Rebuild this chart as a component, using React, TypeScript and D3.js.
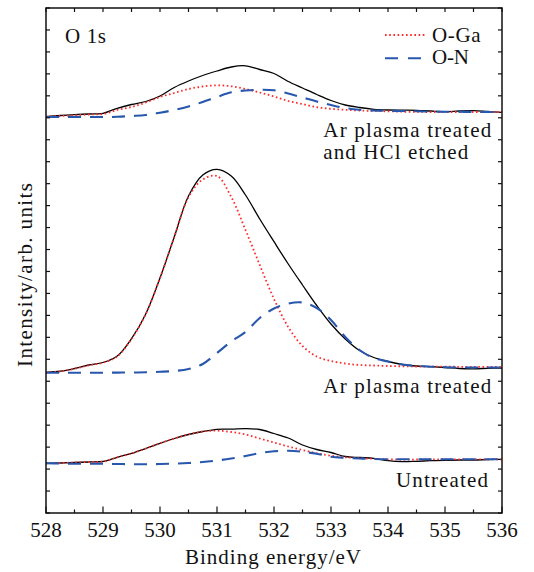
import React from 'react';
import * as d3 from 'd3';

// Binding energy grid (eV)
const energy = [528, 528.25, 528.5, 528.75, 529, 529.25, 529.5, 529.75, 530, 530.25, 530.5, 530.75, 531, 531.25, 531.5, 531.75, 532, 532.25, 532.5, 532.75, 533, 533.25, 533.5, 533.75, 534, 534.25, 534.5, 534.75, 535, 535.25, 535.5, 535.75, 536];

// Ar plasma treated and HCl etched (offset spectrum)
const hclTotal = [396.3, 397.5, 398.4, 399, 399.7, 404.7, 408.5, 411.5, 417, 425.5, 432, 437.5, 442, 446, 447.2, 443.5, 439.5, 431.5, 425, 418.5, 412.5, 408, 405.5, 403.7, 403, 402.8, 402.7, 402, 401.3, 402, 402.3, 401.5, 400.7];
const hclOGa = [396.3, 397, 397.7, 398.5, 399, 403, 406, 410.5, 416, 420, 424, 426.5, 427.7, 426.7, 424, 420.5, 416.5, 412, 409, 405.8, 404.2, 403.2, 402.5, 402, 401.7, 401.3, 401.1, 401, 401, 401, 401, 401, 401];
const hclON = [396, 396, 396, 396, 396, 396.2, 397, 398, 400.3, 403, 406.5, 411, 416, 420.7, 422.5, 423.2, 422.7, 419.5, 415.5, 411.5, 408, 405, 403.3, 402.5, 402.2, 402, 401.7, 401.5, 401.3, 401.2, 401.1, 401, 401];

// Ar plasma treated
const arTotal = [140.7, 141.8, 144.5, 148, 150.5, 157, 174.3, 199, 235, 276, 317, 338, 343.7, 337, 318, 294, 271.3, 249, 228, 207.5, 189, 174, 162.5, 155.5, 151.5, 148.5, 147, 146.3, 145.5, 144.5, 144.2, 144.7, 145];
const arOGa = [140.5, 141.5, 144.2, 147.7, 150.3, 156.5, 174, 199, 235, 276, 316, 333.5, 337, 316, 283, 248, 214, 186, 167, 156.5, 152, 149.5, 148, 147.5, 147, 146.7, 146.5, 146.4, 146.3, 146.2, 146.1, 146, 146];
const arON = [140.3, 140.3, 140.3, 140.3, 140.3, 140.4, 140.5, 140.7, 141.2, 142, 144, 149, 160, 171.5, 181, 195, 204.5, 209.5, 210.5, 205, 193, 176, 163, 155, 151.5, 148.5, 147, 146.3, 145.8, 145.5, 145.5, 145.5, 145.5];

// Untreated
const untreatedTotal = [49.7, 50, 50.5, 51, 51.5, 55.7, 59.7, 64.5, 69.7, 74.5, 78.5, 81.5, 83.7, 83.8, 84.3, 83.5, 79.5, 75, 68, 63.5, 60.5, 56.5, 55.5, 54.7, 52.3, 51.3, 51.7, 52.3, 52.7, 53, 53, 53.4, 53.7];
const untreatedOGa = [49.7, 50, 50.5, 51, 51.4, 55.7, 59.5, 64.5, 69.7, 74.5, 78.5, 81.5, 82.3, 81, 78.5, 74.5, 70.5, 66.5, 63, 59.7, 57.2, 55.7, 54.8, 54.2, 53.7, 53.4, 53.5, 53.6, 53.6, 53.7, 53.7, 53.7, 53.7];
const untreatedON = [49.7, 49.5, 49.3, 49.2, 49.2, 49, 48.8, 48.8, 49, 49.4, 50, 51, 52.5, 54.5, 57, 60, 61.7, 62.2, 61.2, 59.2, 56.3, 55.2, 54.5, 54, 53.7, 53.7, 53.7, 53.7, 53.7, 53.7, 53.7, 53.7, 53.7];

const xTickValues = [528, 529, 530, 531, 532, 533, 534, 535, 536];
const xMinorValues = [528.5, 529.5, 530.5, 531.5, 532.5, 533.5, 534.5, 535.5];
const yMax = 505;
const yTickCount = 23;

const spectrumLabels = [
  { lines: ['Ar plasma treated', 'and HCl etched'], widths: [168, 145], y: 136.5 },
  { lines: ['Ar plasma treated'], widths: [168], y: 393.3 },
  { lines: ['Untreated'], widths: [92], y: 486.5 },
];
const seriesNames = ['O-Ga', 'O-N'];

const W = 534;
const H = 572;
const M = { left: 46, right: 32, top: 8, bottom: 59 };
const FONT = "'Liberation Serif', 'Times New Roman', serif";
const FS = 21;

export default function App() {
  const x = d3.scaleLinear().domain([528, 536]).range([M.left, W - M.right]);
  const y = d3.scaleLinear().domain([0, yMax]).range([H - M.bottom, M.top]);
  const line = d3
    .line<number>()
    .x((_, i) => x(energy[i]))
    .y((d) => y(d))
    .curve(d3.curveCatmullRom.alpha(0.5));

  const yTicks = d3.range(yTickCount + 1).map((i) => (i * yMax) / yTickCount);
  const x0 = M.left;
  const x1 = W - M.right;
  const y0 = H - M.bottom;
  const y1 = M.top;

  const red = '#ff2a2a';
  const blue = '#2857ae';
  const totals = [hclTotal, arTotal, untreatedTotal];
  const ogas = [hclOGa, arOGa, untreatedOGa];
  const ons = [hclON, arON, untreatedON];

  return (
    <svg
      width={W}
      height={H}
      style={{ position: 'absolute', left: 0, top: 0, background: '#fff' }}
      fontFamily={FONT}
    >
      <rect x={0} y={0} width={W} height={H} fill="#fff" />
      {/* curves */}
      <g fill="none">
        {totals.map((d, i) => (
          <path key={'t' + i} d={line(d) || ''} stroke="#000" strokeWidth={1.3} />
        ))}
        {ogas.map((d, i) => (
          <path key={'g' + i} d={line(d) || ''} stroke={red} strokeWidth={1.8} strokeDasharray="1.6,2.6" />
        ))}
        {ons.map((d, i) => (
          <path key={'n' + i} d={line(d) || ''} stroke={blue} strokeWidth={2.1} strokeDasharray="13,9" />
        ))}
      </g>

      {/* frame */}
      <rect x={x0} y={y1} width={x1 - x0} height={y0 - y1} fill="none" stroke="#111" strokeWidth={1.5} />

      {/* x ticks */}
      {xTickValues.map((v) => (
        <g key={'xt' + v}>
          <line x1={x(v)} x2={x(v)} y1={y0} y2={y0 - 6.5} stroke="#111" strokeWidth={1.2} />
          <line x1={x(v)} x2={x(v)} y1={y1} y2={y1 + 4} stroke="#111" strokeWidth={1.2} />
          <text x={x(v)} y={536.7} textAnchor="middle" fontSize={FS} fill="#111">
            {v}
          </text>
        </g>
      ))}
      {xMinorValues.map((v) => (
        <g key={'xm' + v}>
          <line x1={x(v)} x2={x(v)} y1={y0} y2={y0 - 3.5} stroke="#111" strokeWidth={1.2} />
          <line x1={x(v)} x2={x(v)} y1={y1} y2={y1 + 4} stroke="#111" strokeWidth={1.2} />
        </g>
      ))}

      {/* y ticks (no labels) */}
      {yTicks.map((v, i) => (
        <g key={'yt' + i}>
          <line x1={x0} x2={x0 + 4} y1={y(v)} y2={y(v)} stroke="#111" strokeWidth={1.2} />
          <line x1={x1} x2={x1 - 4} y1={y(v)} y2={y(v)} stroke="#111" strokeWidth={1.2} />
        </g>
      ))}

      {/* axis titles */}
      <text x={(x0 + x1) / 2 - 1} y={564} textAnchor="middle" fontSize={FS} fill="#111" textLength={176} lengthAdjust="spacing">
        Binding energy/eV
      </text>
      <text
        transform={`translate(32, 275) rotate(-90)`}
        textAnchor="middle"
        fontSize={FS}
        fill="#111"
        textLength={184}
        lengthAdjust="spacing"
      >
        Intensity/arb. units
      </text>

      {/* panel label */}
      <text x={65} y={43.3} fontSize={FS} fill="#111" textLength={41} lengthAdjust="spacing">
        O 1s
      </text>

      {/* legend */}
      <line x1={385} x2={425} y1={35} y2={35} stroke={red} strokeWidth={1.8} strokeDasharray="1.6,2.6" />
      <text x={432} y={41.7} fontSize={FS} fill="#111" textLength={48.5} lengthAdjust="spacing">
        {seriesNames[0]}
      </text>
      <line x1={385} x2={425} y1={58.3} y2={58.3} stroke={blue} strokeWidth={2.1} strokeDasharray="13,10" />
      <text x={432} y={64} fontSize={FS} fill="#111" textLength={37} lengthAdjust="spacing">
        {seriesNames[1]}
      </text>

      {/* spectrum labels */}
      {spectrumLabels.map((lab, i) => (
        <g key={'lab' + i}>
          {lab.lines.map((t, j) => (
            <text
              key={j}
              x={i === 2 ? 396 : 323.3}
              y={lab.y + j * 22.7}
              fontSize={FS}
              fill="#111"
              textLength={lab.widths[j]}
              lengthAdjust="spacing"
            >
              {t}
            </text>
          ))}
        </g>
      ))}
    </svg>
  );
}
